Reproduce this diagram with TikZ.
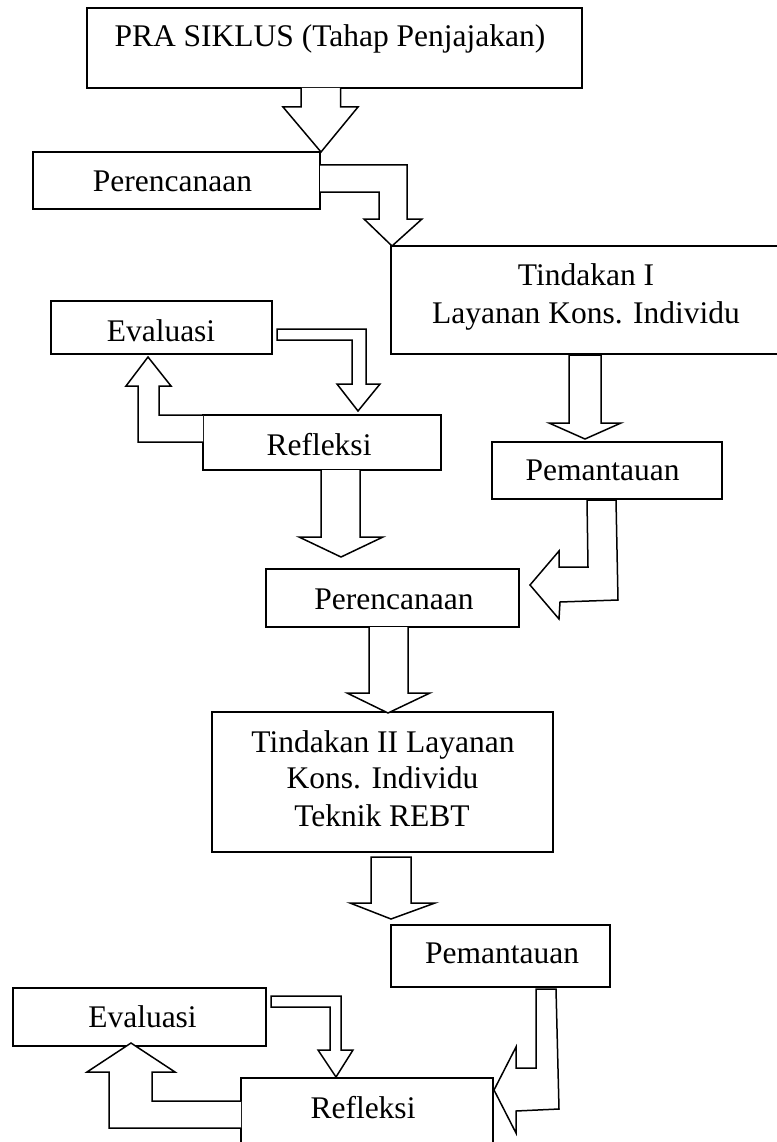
\documentclass[tikz,border=0pt]{standalone}
\usepackage{fontspec}
\setmainfont{Liberation Serif}
\begin{document}
\begin{tikzpicture}[x=1pt,y=-1pt,
  box/.style={draw=black, line width=1.6pt, rectangle, inner sep=0pt, outer sep=0pt, fill=white},
  lbl/.style={anchor=base, inner sep=0pt, font=\fontsize{31.5}{37}\selectfont},
  barrow/.style={draw=black, line width=1.5pt, fill=white, line join=miter, miter limit=10}]
\fill[white] (0,0) rectangle (776,1142);
\useasboundingbox (0,0) rectangle (776,1142);
% boxes
\node[box, minimum width=495, minimum height=80] (b1) at (334.5,48) {};
\node[box, minimum width=287, minimum height=57] (b2) at (176.5,180.5) {};
\node[box, minimum width=390, minimum height=108] (b3) at (586,300) {};
\node[box, minimum width=221, minimum height=53] (e1) at (161.5,327.5) {};
\node[box, minimum width=238, minimum height=55] (r1) at (322,442.5) {};
\node[box, minimum width=230, minimum height=57] (p1) at (607,470.5) {};
\node[box, minimum width=253, minimum height=58] (c2) at (392.5,598) {};
\node[box, minimum width=341, minimum height=140] (t2) at (382.5,782) {};
\node[box, minimum width=219, minimum height=62] (p2) at (500.5,956) {};
\node[box, minimum width=253, minimum height=58] (e2) at (139.5,1017) {};
\node[box, minimum width=252, minimum height=82] (r2) at (367,1119) {};
% texts
\node[lbl] (tb1) at (330,47) {PRA SIKLUS (Tahap Penjajakan)};
\node[lbl] (tb2) at (172.5,192) {Perencanaan};
\node[lbl] (tb3a) at (586,285) {Tindakan I};
\node[lbl] (tb3b) at (586,323) {Layanan Kons. Individu};
\node[lbl] (te1) at (161,341) {Evaluasi};
\node[lbl] (tr1) at (319,455) {Refleksi};
\node[lbl] (tp1) at (602.5,480) {Pemantauan};
\node[lbl] (tc2) at (394,609) {Perencanaan};
\node[lbl] (tt2a) at (383,752) {Tindakan II Layanan};
\node[lbl] (tt2b) at (382.5,788) {Kons. Individu};
\node[lbl] (tt2c) at (382,826) {Teknik REBT};
\node[lbl] (tp2) at (502,963) {Pemantauan};
\node[lbl] (te2) at (142.5,1027) {Evaluasi};
\node[lbl] (tr2) at (363,1118) {Refleksi};
% block arrows
% b1 -> b2
\draw[barrow] (301,88) -- (301,107) -- (283,107) -- (321,152) -- (358,107) -- (340.5,107) -- (340.5,88);
% b2 -> b3
\draw[barrow] (320,165) -- (407,165) -- (407,219) -- (422,219) -- (392,246) -- (364,219) -- (379,219) -- (379,192) -- (320,192);
% b3 -> p1
\draw[barrow] (569,355) -- (569,423) -- (549,423) -- (585,439) -- (621,423) -- (601,423) -- (601,355) -- cycle;
% e1 -> r1
\draw[barrow] (277,329) -- (366,329) -- (366,384) -- (380,384) -- (358,411) -- (337,384) -- (352,384) -- (352,340) -- (277,340) -- cycle;
% r1 -> e1
\draw[barrow] (203,415) -- (159,415) -- (159,386) -- (171,386) -- (148,357) -- (126,386) -- (138,386) -- (138,442) -- (203,442);
% r1 -> c2
\draw[barrow] (321,470) -- (321,537) -- (299,537) -- (341,557) -- (383,537) -- (360,537) -- (360,470);
% p1 -> c2
\draw[barrow] (587,500) -- (588,567) -- (559,567) -- (559,551) -- (530,585) -- (559,619) -- (560,602) -- (618,600) -- (616,500) -- cycle;
% c2 -> t2
\draw[barrow] (369,627) -- (369,693) -- (347,693) -- (388,713) -- (430,693) -- (408,693) -- (408,627);
% t2 -> p2
\draw[barrow] (371,857) -- (371,903) -- (350,903) -- (391,919) -- (435,903) -- (411,903) -- (411,857) -- cycle;
% e2 -> r2
\draw[barrow] (271,996) -- (341,996) -- (341,1050) -- (353,1050) -- (336,1077) -- (318,1050) -- (330,1050) -- (330,1007) -- (271,1007) -- cycle;
% r2 -> e2
\draw[barrow] (241,1101) -- (152,1101) -- (152,1072) -- (175,1072) -- (131,1043) -- (87,1072) -- (109,1072) -- (109,1128) -- (241,1128);
% p2 -> r2
\draw[barrow] (536,989) -- (536,1068) -- (516,1068) -- (516,1047) -- (494,1090) -- (516,1133) -- (516,1111) -- (559,1109) -- (556,989) -- cycle;
\end{tikzpicture}
\end{document}
